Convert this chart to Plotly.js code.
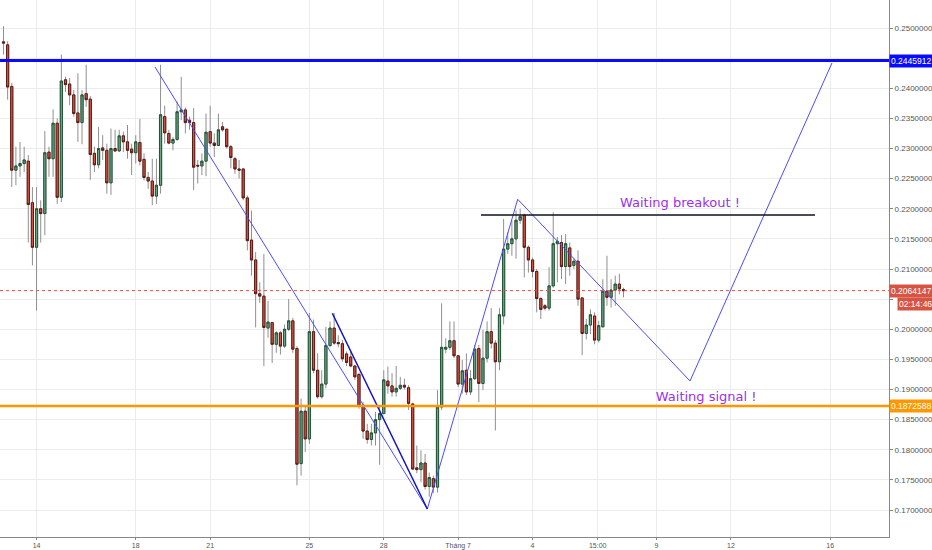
<!DOCTYPE html>
<html>
<head>
<meta charset="utf-8">
<script src="https://cdn.plot.ly/plotly-3.0.1.min.js"></script>
<style>
  html, body { margin: 0; padding: 0; background: #fff; }
  #chart { width: 932px; height: 550px; }
</style>
</head>
<body>
<div id="chart"></div>
<script>
// 4h candles, first one opens 12 June 16:00
var firstCandle = '2018-06-12 16:00';
var candleHours = 4;

var opens = [
  .2477, .2472, .2403, .2264, .2271, .2275, .2279, .2210, .2136, .2200,
  .2192, .2294, .2283, .2342, .2219, .2414, .2407, .2389, .2359, .2343,
  .2391, .2382, .2292, .2273, .2301, .2297, .2243, .2300, .2296, .2321,
  .2311, .2299, .2293, .2310, .2282, .2252, .2246, .2221, .2239, .2353,
  .2325, .2309, .2315, .2361, .2364, .2347, .2343, .2272, .2271, .2279,
  .2328, .2309, .2305, .2336, .2332, .2303, .2283, .2266, .2266, .2218,
  .2148, .2115, .2059, .2055, .2002, .2011, .1975, .1994, .1972, .2000,
  .2014, .1968, .1777, .1864, .1818, .1996, .1932, .1888, .1909, .1973,
  .2002, .1978, .1976, .1959, .1954, .1939, .1925, .1874, .1831, .1817,
  .1828, .1850, .1860, .1914, .1906, .1896, .1902, .1907, .1903, .1876,
  .1770, .1767, .1778, .1739, .1752, .1738, .1871, .1967, .1970, .1981,
  .1956, .1909, .1932, .1896, .1918, .1968, .1910, .1952, .1996, .1977,
  .1946, .2022, .2133, .2142, .2150, .2181, .2189, .2136, .2115, .2096,
  .2051, .2039, .2035, .2072, .2142, .2144, .2104, .2135, .2106, .2113,
  .2052, .1993, .2007, .2022, .1982, .2004, .2063, .2053, .2065, .2075,
  .2066
];
var highs = [
  .2503, .2478, .2409, .2303, .2311, .2303, .2289, .2236, .2236, .2214,
  .2329, .2303, .2365, .2350, .2456, .2419, .2417, .2397, .2425, .2397,
  .2439, .2387, .2303, .2336, .2322, .2308, .2333, .2331, .2331, .2328,
  .2339, .2308, .2322, .2349, .2292, .2261, .2283, .2283, .2439, .2371,
  .2331, .2319, .2378, .2419, .2368, .2353, .2367, .2281, .2292, .2358,
  .2371, .2325, .2358, .2344, .2333, .2306, .2286, .2281, .2267, .2222,
  .2197, .2128, .2078, .2125, .2047, .2011, .1997, .1997, .2008, .2050,
  .2019, .1972, .1885, .1871, .2027, .2016, .1960, .1932, .2004, .2013,
  .2027, .1990, .1982, .1963, .1963, .1941, .1928, .1879, .1843, .1843,
  .1863, .1874, .1932, .1938, .1927, .1939, .1921, .1918, .1907, .1878,
  .1807, .1799, .1793, .1762, .1757, .1899, .2043, .1985, .2013, .2013,
  .1957, .1949, .1960, .1932, .1974, .1974, .1999, .2013, .2035, .1982,
  .2035, .2183, .2161, .2181, .2197, .2200, .2192, .2139, .2119, .2100,
  .2053, .2042, .2103, .2194, .2153, .2156, .2158, .2144, .2117, .2131,
  .2053, .2017, .2033, .2028, .2014, .2083, .2122, .2083, .2089, .2092,
  .2069
];
var lows = [
  .2456, .2381, .2236, .2239, .2253, .2261, .2144, .2106, .2031, .2144,
  .2156, .2253, .2253, .2208, .2211, .2394, .2372, .2353, .2311, .2307,
  .2369, .2248, .2261, .2267, .2281, .2225, .2223, .2294, .2294, .2294,
  .2283, .2256, .2275, .2272, .2247, .2233, .2206, .2208, .2225, .2308,
  .2307, .2297, .2313, .2347, .2325, .2331, .2231, .2242, .2256, .2254,
  .2303, .2286, .2304, .2328, .2300, .2267, .2258, .2250, .2214, .2131,
  .2089, .2003, .2044, .1939, .1986, .1944, .1961, .1958, .1969, .1997,
  .1961, .1741, .1757, .1796, .1810, .1927, .1885, .1885, .1902, .1970,
  .1974, .1970, .1946, .1939, .1937, .1916, .1868, .1818, .1810, .1807,
  .1807, .1775, .1859, .1893, .1888, .1888, .1899, .1900, .1866, .1766,
  .1761, .1746, .1734, .1722, .1728, .1729, .1866, .1960, .1966, .1952,
  .1904, .1893, .1891, .1891, .1916, .1879, .1899, .1945, .1968, .1832,
  .1932, .2008, .2125, .2122, .2117, .2175, .2086, .2094, .2086, .2028,
  .2017, .2031, .2031, .2069, .2078, .2083, .2075, .2089, .2100, .2039,
  .1957, .1983, .1992, .1975, .1978, .2003, .2039, .2036, .2039, .2058,
  .2053
];
var closes = [
  .2475, .2402, .2264, .2271, .2275, .2281, .2207, .2136, .2200, .2192,
  .2293, .2283, .2342, .2219, .2412, .2406, .2389, .2358, .2343, .2389,
  .2381, .2290, .2273, .2300, .2297, .2243, .2300, .2296, .2321, .2311,
  .2297, .2293, .2311, .2279, .2252, .2246, .2221, .2239, .2356, .2326,
  .2309, .2315, .2361, .2364, .2343, .2343, .2269, .2271, .2279, .2327,
  .2309, .2305, .2331, .2331, .2303, .2285, .2266, .2264, .2218, .2147,
  .2115, .2059, .2055, .2003, .2012, .1975, .1994, .1972, .2000, .2014,
  .1967, .1776, .1864, .1818, .1996, .1932, .1888, .1909, .1973, .2002,
  .1977, .1976, .1951, .1945, .1939, .1921, .1872, .1831, .1817, .1828,
  .1850, .1860, .1916, .1906, .1896, .1902, .1907, .1904, .1877, .1768,
  .1767, .1778, .1739, .1754, .1738, .1871, .1970, .1970, .1981, .1956,
  .1909, .1931, .1896, .1918, .1967, .1910, .1952, .1996, .1977, .1946,
  .2024, .2133, .2142, .2150, .2181, .2187, .2136, .2115, .2096, .2051,
  .2033, .2035, .2072, .2142, .2146, .2104, .2142, .2104, .2113, .2050,
  .1993, .2007, .2024, .1982, .2006, .2063, .2053, .2065, .2075, .2067,
  .2064
];

// x axis ticks
var tickDates = ['2018-06-14', '2018-06-18', '2018-06-21', '2018-06-25', '2018-06-28',
  '2018-07-01', '2018-07-04', '2018-07-06 15:00', '2018-07-09', '2018-07-12', '2018-07-16'];
var tickLabels = ['14', '18', '21', '25', '28', 'Tháng 7', '4', '15:00', '9', '12', '16'];

// price grid (labels hidden where a price tag sits on the axis)
var priceTicks = [0.170, 0.175, 0.180, 0.185, 0.190, 0.195, 0.200, 0.205, 0.210,
  0.215, 0.220, 0.225, 0.230, 0.235, 0.240, 0.245, 0.250];
var priceLabels = ['0.1700000', '0.1750000', '0.1800000', '0.1850000', '0.1900000', '0.1950000',
  '0.2000000', '', '0.2100000', '0.2150000', '0.2200000', '0.2250000', '0.2300000',
  '0.2350000', '0.2400000', '', '0.2500000'];

// levels drawn on the chart
var resistance = 0.2445912;
var support = 0.1872588;
var lastPrice = 0.2064147;
var countdown = '02:14:46';

// hand drawn pattern (time, price)
var patternX = ['2018-06-18 18:37', '2018-06-29 18:08', '2018-07-03 09:37', '2018-07-10 08:22', '2018-07-16 01:46'];
var patternY = [0.24353, 0.17017, 0.22157, 0.19141, 0.24419];
var legX = ['2018-06-25 22:12', '2018-06-29 18:08'];
var legY = [0.20265, 0.17017];
var neckX = ['2018-07-01 22:06', '2018-07-15 09:20'];
var neckY = [0.21896, 0.21896];

var noteX = ['2018-07-09 22:40', '2018-07-11 00:01'];
var noteY = [0.22079, 0.18859];
var noteText = ['Waiting breakout !', 'Waiting signal !'];

var UP = '#6ba583', UP_LINE = '#225437';
var DOWN = '#d75442', DOWN_LINE = '#5b1a13';
var WICK = '#8f8f8f';

function fmt(ms) {
    return new Date(ms).toISOString().slice(0, 16).replace('T', ' ');
}

var t0 = new Date(firstCandle.replace(' ', 'T') + ':00Z').getTime();
var times = opens.map(function (o, i) { return fmt(t0 + i * candleHours * 3600000); });
var bodyTop = opens.map(function (o, i) { return Math.max(o, closes[i]); });
var bodyBottom = opens.map(function (o, i) { return Math.min(o, closes[i]); });

var traces = [
    { // wicks
        type: 'candlestick', x: times, open: opens, high: highs, low: lows, close: closes,
        increasing: { line: { color: WICK, width: 1 }, fillcolor: UP },
        decreasing: { line: { color: WICK, width: 1 }, fillcolor: DOWN },
        whiskerwidth: 0, hoverinfo: 'skip', showlegend: false
    },
    { // bodies with dark outline
        type: 'candlestick', x: times, open: opens, high: bodyTop, low: bodyBottom, close: closes,
        increasing: { line: { color: UP_LINE, width: 1 }, fillcolor: UP },
        decreasing: { line: { color: DOWN_LINE, width: 1 }, fillcolor: DOWN },
        whiskerwidth: 0, hoverinfo: 'skip', showlegend: false
    },
    {
        type: 'scatter', mode: 'lines', x: patternX, y: patternY,
        line: { color: '#4b4bff', width: 1 }, hoverinfo: 'skip', showlegend: false
    },
    {
        type: 'scatter', mode: 'lines', x: legX, y: legY,
        line: { color: '#1010c8', width: 1.5 }, hoverinfo: 'skip', showlegend: false
    },
    {
        type: 'scatter', mode: 'lines', x: neckX, y: neckY,
        line: { color: '#111122', width: 1.6 }, hoverinfo: 'skip', showlegend: false
    },
    {
        type: 'scatter', mode: 'text', x: noteX, y: noteY, text: noteText,
        textposition: 'middle center',
        textfont: { family: 'DejaVu Sans', size: 13, color: '#9b2ff0' },
        hoverinfo: 'skip', showlegend: false
    }
];

function levelLine(y, color, width, dash) {
    return {
        type: 'line', xref: 'paper', x0: 0, x1: 1, yref: 'y', y0: y, y1: y,
        line: { color: color, width: width, dash: dash || 'solid' }
    };
}

function priceTag(y, text, color, shiftX, shiftY) {
    return {
        xref: 'paper', x: 1, xanchor: 'left', yref: 'y', y: y, yanchor: 'middle',
        xshift: shiftX || 0, yshift: shiftY || 0,
        text: text, showarrow: false, bgcolor: color, borderpad: 1,
        font: { family: 'Liberation Sans', size: 8.5, color: '#ffffff' }
    };
}

var layout = {
    width: 932,
    height: 550,
    margin: { l: 0, r: 43, t: 0, b: 13 },
    paper_bgcolor: '#ffffff',
    plot_bgcolor: '#ffffff',
    showlegend: false,
    boxgap: 0.25,
    xaxis: {
        type: 'date',
        range: ['2018-06-12 12:37', '2018-07-18 08:57'],
        rangeslider: { visible: false },
        tickmode: 'array',
        tickvals: tickDates,
        ticktext: tickLabels,
        tickfont: { family: 'Liberation Sans', size: 7, color: '#555555' },
        ticks: 'outside', ticklen: 2, tickcolor: '#888888',
        showgrid: true, gridcolor: '#ececec', gridwidth: 1,
        showline: true, linecolor: '#888888', linewidth: 1,
        zeroline: false, fixedrange: true
    },
    yaxis: {
        side: 'right',
        range: [0.165519, 0.254647],
        tickmode: 'array',
        tickvals: priceTicks,
        ticktext: priceLabels,
        tickfont: { family: 'Liberation Sans', size: 8, color: '#555555' },
        ticks: 'outside', ticklen: 3, tickcolor: '#888888',
        showgrid: true, gridcolor: '#ececec', gridwidth: 1,
        showline: true, linecolor: '#888888', linewidth: 1,
        zeroline: false, fixedrange: true
    },
    shapes: [
        levelLine(lastPrice, '#d75442', 1, 'dot'),
        levelLine(resistance, '#0a0aff', 3),
        levelLine(support, '#ff9800', 2.5)
    ],
    annotations: [
        priceTag(resistance, resistance.toFixed(7), '#0a0aff'),
        priceTag(lastPrice, lastPrice.toFixed(7), '#d75442'),
        priceTag(lastPrice, countdown, '#d75442', 8, -13),
        priceTag(support, support.toFixed(7), '#ff9800')
    ]
};

Plotly.newPlot('chart', traces, layout, { staticPlot: true });
</script>
</body>
</html>
